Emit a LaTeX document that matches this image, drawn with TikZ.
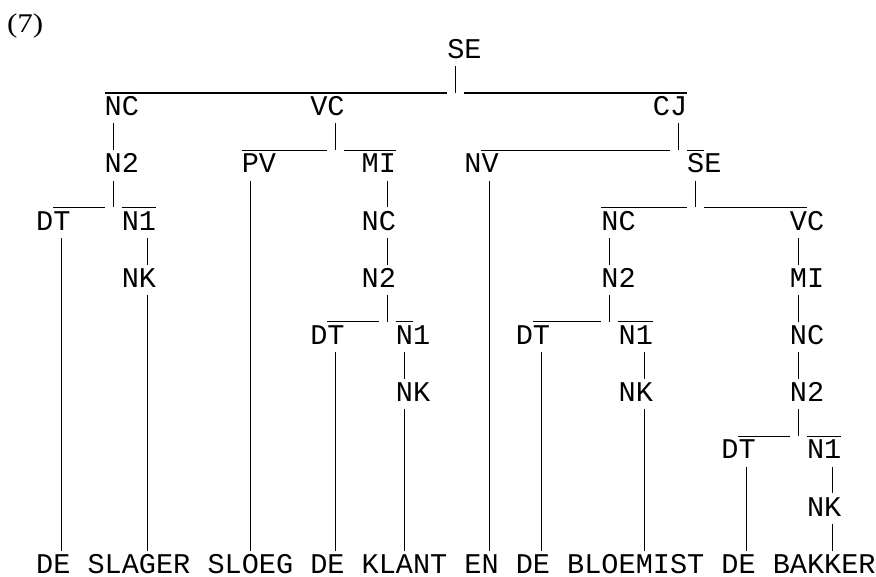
\documentclass[tikz,border=0pt]{standalone}
\usepackage{fontspec}
\setmainfont{Liberation Serif}
\newfontfamily\treefont{Liberation Mono}
% #1 parent, #2 its char, #3 child
\newcommand{\drop}[3]{\draw[treeline] ([shift={(#2+.5,0)}]#1.south west) -- ([shift={(#2+.5,0)}]#1.south west |- #3.north);}
% #1 parent, #2 its char, #3 left child, #4 its char, #5 right child, #6 its char
\newcommand{\fork}[6]{%
  \draw[treeline] ([shift={(#2+.5,0)}]#1.south west) -- ([shift={(#2+.5,0)}]#1.south west |- #3.north);
  \draw[treeline] ([shift={(#4,0)}]#3.north west) -- ([shift={(#2,0)}]#1.south west |- #3.north);
  \draw[treeline] ([shift={(#2+1,0)}]#1.south west |- #5.north) -- ([shift={(#6+1,0)}]#5.north west);}

\begin{document}
\begin{tikzpicture}[x=17.13pt,y=-28.6pt,
  lab/.style={anchor=base west, inner sep=0pt, font=\treefont\fontsize{28.55pt}{28.6pt}\selectfont, text height=22.4pt, text depth=7.6pt},
  word/.style={lab, text depth=0pt},
  treeline/.style={line width=1.1pt}]
\useasboundingbox (-36pt,58.4pt) rectangle (840pt,-517.6pt);
\node[anchor=base west, inner sep=0pt, font=\fontsize{27pt}{30pt}\selectfont] (num) at (-1.7,-0.89) {\scalebox{1.15}[1]{(7)}};
% categories
\node[lab] (se) at (24,0) {SE};
\node[lab] (ncA) at (4,2) {NC};
\node[lab] (vc) at (16,2) {VC};
\node[lab] (cj) at (36,2) {CJ};
\node[lab] (ntA) at (4,4) {N2};
\node[lab] (pv) at (12,4) {PV};
\node[lab] (mi) at (19,4) {MI};
\node[lab] (nv) at (25,4) {NV};
\node[lab] (seB) at (38,4) {SE};
\node[lab] (dtA) at (0,6) {DT};
\node[lab] (noA) at (5,6) {N1};
\node[lab] (ncB) at (19,6) {NC};
\node[lab] (ncC) at (33,6) {NC};
\node[lab] (vcB) at (44,6) {VC};
\node[lab] (nkA) at (5,8) {NK};
\node[lab] (ntB) at (19,8) {N2};
\node[lab] (ntC) at (33,8) {N2};
\node[lab] (miB) at (44,8) {MI};
\node[lab] (dtB) at (16,10) {DT};
\node[lab] (noB) at (21,10) {N1};
\node[lab] (dtC) at (28,10) {DT};
\node[lab] (noC) at (34,10) {N1};
\node[lab] (ncD) at (44,10) {NC};
\node[lab] (nkB) at (21,12) {NK};
\node[lab] (nkC) at (34,12) {NK};
\node[lab] (ntD) at (44,12) {N2};
\node[lab] (dtD) at (40,14) {DT};
\node[lab] (noD) at (45,14) {N1};
\node[lab] (nkD) at (45,16) {NK};
% words
\node[word] (w1) at (0,18) {DE};
\node[word] (w2) at (3,18) {SLAGER};
\node[word] (w3) at (10,18) {SLOEG};
\node[word] (w4) at (16,18) {DE};
\node[word] (w5) at (19,18) {KLANT};
\node[word] (w6) at (25,18) {EN};
\node[word] (w7) at (28,18) {DE};
\node[word] (w8) at (31,18) {BLOEMIST};
\node[word] (w9) at (40,18) {DE};
\node[word] (w10) at (43,18) {BAKKER};
% branches
\fork{se}{0}{ncA}{0}{cj}{1}
\drop{ncA}{0}{ntA}
\fork{ntA}{0}{dtA}{1}{noA}{1}
\drop{dtA}{1}{w1}
\drop{noA}{1}{nkA}
\drop{nkA}{1}{w2}
\fork{vc}{1}{pv}{0}{mi}{1}
\drop{pv}{0}{w3}
\drop{mi}{1}{ncB}
\drop{ncB}{1}{ntB}
\fork{ntB}{1}{dtB}{1}{noB}{0}
\drop{dtB}{1}{w4}
\drop{noB}{0}{nkB}
\drop{nkB}{0}{w5}
\fork{cj}{1}{nv}{1}{seB}{0}
\drop{nv}{1}{w6}
\fork{seB}{0}{ncC}{0}{vcB}{0}
\drop{ncC}{0}{ntC}
\fork{ntC}{0}{dtC}{1}{noC}{1}
\drop{dtC}{1}{w7}
\drop{noC}{1}{nkC}
\drop{nkC}{1}{w8}
\drop{vcB}{0}{miB}
\drop{miB}{0}{ncD}
\drop{ncD}{0}{ntD}
\fork{ntD}{0}{dtD}{1}{noD}{1}
\drop{dtD}{1}{w9}
\drop{noD}{1}{nkD}
\drop{nkD}{1}{w10}
\end{tikzpicture}
\end{document}
